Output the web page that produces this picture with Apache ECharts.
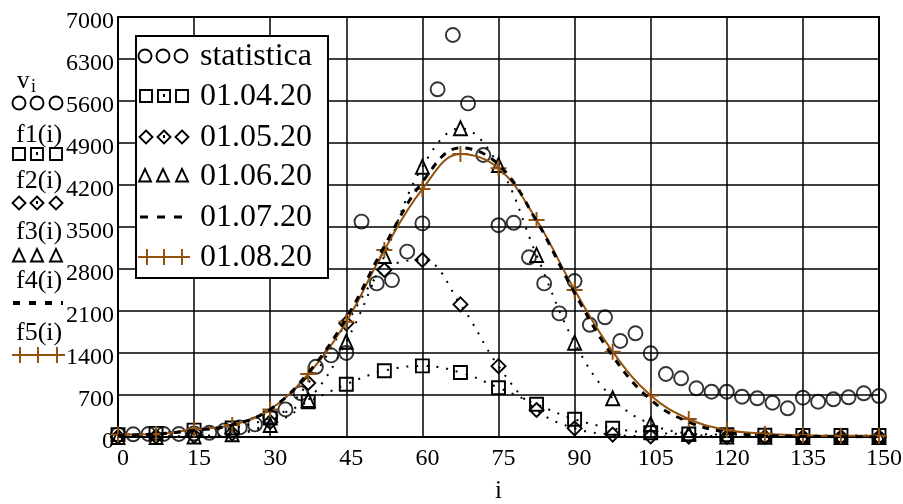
<!DOCTYPE html>
<html><head><meta charset="utf-8">
<script src="https://cdn.jsdelivr.net/npm/echarts@6/dist/echarts.min.js"></script>
<style>html,body{margin:0;padding:0;background:#fff}#c{width:903px;height:504px}</style>
</head><body><div id="c"></div>
<script>
const FONT = 'Liberation Serif';
const BROWN = '#94520f';

// statistica (v_i), every 3 days
const statX = [0,3,6,9,12,15,18,21,24,27,30,33,36,39,42,45,48,51,54,57,60,63,66,69,72,75,78,81,84,87,90,93,96,99,102,105,108,111,114,117,120,123,126,129,132,135,138,141,144,147,150];
const statistica = [40,45,50,50,50,60,70,110,160,210,330,460,730,1170,1360,1400,3590,2560,2615,3090,3560,5795,6700,5560,4700,3530,3570,2995,2560,2060,2600,1870,1995,1600,1728,1395,1050,978,812,755,755,672,645,572,478,655,588,628,662,728,683];

// model curves, sampled every 7.5 days
const fX = [0,7.5,15,22.5,30,37.5,45,52.5,60,67.5,75,82.5,90,97.5,105,112.5,120,127.5,135,142.5,150];
const f1 = [40,60,115,150,316,585,880,1105,1185,1075,822,545,295,145,72,50,40,30,25,25,25];
const f2 = [5,10,20,60,250,900,1895,2783,2950,2210,1180,450,145,40,10,5,0,0,0,0,0];
const f3 = [0,0,10,45,200,617,1588,3017,4505,5145,4533,3033,1572,645,215,55,10,2,0,0,0];
const f4 = [30,50,110,200,460,1070,1980,3180,4250,4820,4540,3600,2400,1350,620,250,80,25,10,5,0];
const f5 = [40,50,128,200,460,1050,1922,3117,4133,4717,4478,3617,2450,1422,690,300,117,55,30,20,20];

const legendNames = ['statistica','01.04.20','01.05.20','01.06.20','01.07.20','01.08.20'];
const sideNames = ['f1(i)','f2(i)','f3(i)','f4(i)','f5(i)'];
const xName = 'i';

function zip(xs, ys){ return xs.map((x,k)=>[x, ys[k]]); }

const G = [];
const Z = 100;
const SW = 1.9;
function circ(cx,cy){ G.push({type:'circle', z:Z, shape:{cx:cx,cy:cy,r:6.5}, style:{fill:'none',stroke:'#000',lineWidth:SW}}); }
function sq(cx,cy,dot){ G.push({type:'rect', z:Z, shape:{x:cx-6,y:cy-6,width:12,height:12}, style:{fill:'none',stroke:'#000',lineWidth:SW}});
  if(dot) G.push({type:'rect', z:Z, shape:{x:cx-1,y:cy-2,width:2,height:3}, style:{fill:'#000'}}); }
function dia(cx,cy,dot){ G.push({type:'polygon', z:Z, shape:{points:[[cx,cy-6.5],[cx+6.5,cy],[cx,cy+6.5],[cx-6.5,cy]]}, style:{fill:'none',stroke:'#000',lineWidth:SW}});
  if(dot) G.push({type:'rect', z:Z, shape:{x:cx-1,y:cy-2,width:2,height:3}, style:{fill:'#000'}}); }
function tri(cx,cy){ G.push({type:'polygon', z:Z, shape:{points:[[cx,cy-7],[cx+6,cy+5.5],[cx-6,cy+5.5]]}, style:{fill:'none',stroke:'#000',lineWidth:SW}}); }
function plus(cx,cy){
  G.push({type:'line', z:Z, shape:{x1:cx-8,y1:cy,x2:cx+8,y2:cy}, style:{stroke:BROWN,lineWidth:2}});
  G.push({type:'line', z:Z, shape:{x1:cx,y1:cy-8,x2:cx,y2:cy+8}, style:{stroke:BROWN,lineWidth:2}});
}
function txt(x,y,t,size,align){ G.push({type:'text', z:Z, x:x, y:y, style:{text:t, fill:'#000', font: size+'px "'+FONT+'"', align:align||'left', verticalAlign:'middle'}}); }

// in-plot legend box
G.push({type:'rect', z:Z-1, shape:{x:136,y:36,width:192,height:242}, style:{fill:'#fff',stroke:'#000',lineWidth:2}});
const rows = [56,96,137,176,217,257];
[145,163,181].forEach(x=>circ(x,rows[0]));
[146,164,182].forEach((x,k)=>sq(x,rows[1],k===1));
[146,164,182].forEach((x,k)=>dia(x,rows[2],k===1));
[145,163,182].forEach(x=>tri(x,rows[3]));
G.push({type:'line', z:Z, shape:{x1:140,y1:rows[4],x2:190,y2:rows[4]}, style:{stroke:'#000',lineWidth:3,lineDash:[8,9]}});
G.push({type:'line', z:Z, shape:{x1:138,y1:rows[5],x2:190,y2:rows[5]}, style:{stroke:BROWN,lineWidth:2}});
[147,164,182].forEach(x=>plus(x,rows[5]));
legendNames.forEach((n,k)=>txt(200,rows[k]+1,n,32));

// left axis label stack
G.push({type:'text', z:Z, x:17, y:81, style:{text:'v', fill:'#000', font:'25px "'+FONT+'"', align:'left', verticalAlign:'middle'}});
G.push({type:'text', z:Z, x:31, y:87, style:{text:'i', fill:'#000', font:'18px "'+FONT+'"', align:'left', verticalAlign:'middle'}});
[19,37,56].forEach(x=>circ(x,103));
const sideY = [135,181,232,281,333];
sideNames.forEach((n,k)=>txt(16,sideY[k],n,26));
[19,37,56].forEach((x,k)=>sq(x,154,k===1));
[19,37,56].forEach((x,k)=>dia(x,203,k===1));
[19,37,56].forEach(x=>tri(x,256));
G.push({type:'line', z:Z, shape:{x1:13,y1:303,x2:63,y2:303}, style:{stroke:'#000',lineWidth:4,lineDash:[7,9]}});
G.push({type:'line', z:Z, shape:{x1:12,y1:355,x2:64,y2:355}, style:{stroke:BROWN,lineWidth:2}});
[20,38,57].forEach(x=>plus(x,355));

const PLUS = 'path://M4.4,0H5.6V4.4H10V5.6H5.6V10H4.4V5.6H0V4.4H4.4Z';
const mk = {color:'transparent', borderColor:'#000', borderWidth:SW};
const dotted = {color:'#000', width:2, type:[2,8]};

const option = {
  animation:false,
  backgroundColor:'#fff',
  textStyle:{fontFamily:FONT},
  grid:{left:118,right:24,top:17,bottom:67,containLabel:false,outerBoundsMode:'none',show:true,borderColor:'#000',borderWidth:2,backgroundColor:'transparent'},
  xAxis:{type:'value',min:0,max:150,interval:15,
    name:xName,nameLocation:'middle',nameGap:42,nameTextStyle:{fontFamily:FONT,fontSize:25,color:'#000'},
    axisLine:{show:false},axisTick:{show:false},
    axisLabel:{fontFamily:FONT,fontSize:24,color:'#000',margin:10,padding:[0,0,0,10],formatter:v=>String(v)},
    splitLine:{show:true,lineStyle:{color:'#000',width:1.5}}},
  yAxis:{type:'value',min:0,max:7000,interval:700,
    axisLine:{show:false},axisTick:{show:false},
    axisLabel:{margin:4,formatter:v=>'{a|'+v+'}',
      rich:{a:{fontFamily:FONT,fontSize:24,color:'#000',padding:[10,0,0,0]}}},
    splitLine:{show:true,lineStyle:{color:'#000',width:1.5}}},
  series:[
    {name:legendNames[0],type:'scatter',data:zip(statX,statistica),symbol:'circle',symbolSize:14,itemStyle:mk,z:5},
    {name:legendNames[1],type:'line',data:zip(fX,f1),smooth:0.4,symbol:'rect',symbolSize:13,showAllSymbol:true,itemStyle:mk,lineStyle:dotted,z:4},
    {name:legendNames[2],type:'line',data:zip(fX,f2),smooth:0.4,symbol:'diamond',symbolSize:14,showAllSymbol:true,itemStyle:mk,lineStyle:dotted,z:4},
    {name:legendNames[3],type:'line',data:zip(fX,f3),smooth:0.4,symbol:'triangle',symbolSize:[13,14],showAllSymbol:true,itemStyle:mk,lineStyle:dotted,z:4},
    {name:legendNames[5],type:'line',data:zip(fX,f5),smooth:0.4,symbol:PLUS,symbolSize:16,showAllSymbol:true,itemStyle:{color:BROWN},lineStyle:{color:BROWN,width:2},z:6},
    {name:legendNames[4],type:'line',data:zip(fX,f4),smooth:0.4,showSymbol:false,symbol:'none',lineStyle:{color:'#000',width:3,type:[7,7]},z:7}
  ],
  graphic:{elements:G}
};
const chart = echarts.init(document.getElementById('c'));
chart.setOption(option);
</script>
</body></html>
